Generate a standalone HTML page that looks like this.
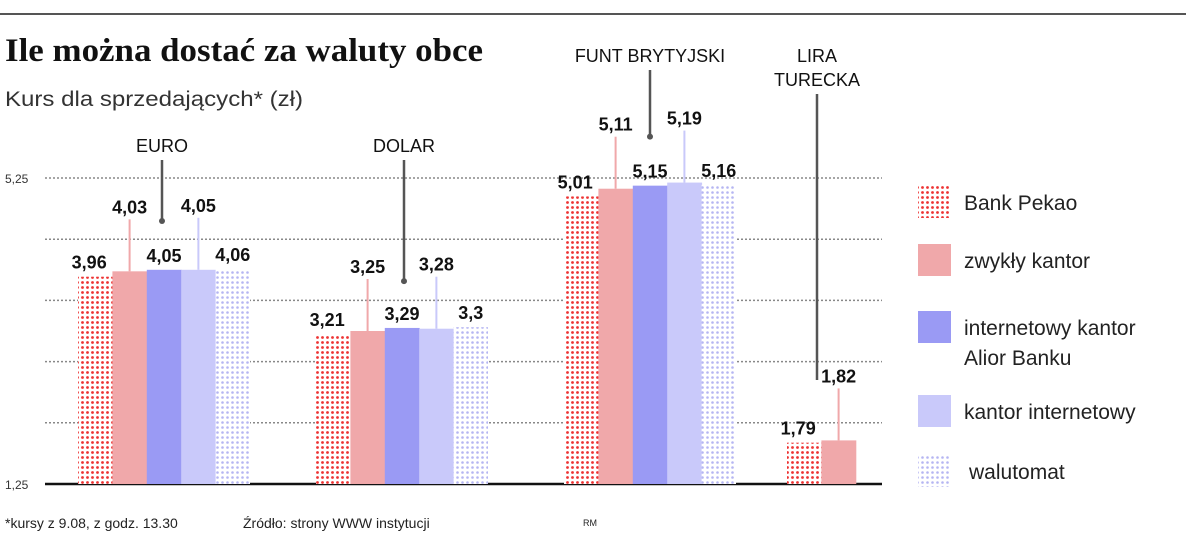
<!DOCTYPE html>
<html><head><meta charset="utf-8"><style>
body{margin:0;background:#fff;width:1200px;height:557px;overflow:hidden;font-family:"Liberation Sans",sans-serif}
svg{display:block}
</style></head><body>
<svg id="chart" width="1200" height="557" xmlns="http://www.w3.org/2000/svg">
<defs>
<pattern id="pRed" width="5" height="5" patternUnits="userSpaceOnUse"><rect width="5" height="5" fill="#fff"/><circle cx="2.5" cy="2.5" r="1.4" fill="#e33"/></pattern>
<pattern id="pLav" width="5" height="5" patternUnits="userSpaceOnUse"><rect width="5" height="5" fill="#fff"/><circle cx="2.5" cy="2.5" r="1.3" fill="#b5b5f2"/></pattern>
</defs>
<line x1="0" y1="14" x2="1186" y2="14" stroke="#555" stroke-width="2"/>
<text x="5" y="61" font-family="Liberation Serif, serif" font-weight="bold" font-size="33" textLength="478" lengthAdjust="spacingAndGlyphs" fill="#111">Ile można dostać za waluty obce</text>
<text x="5" y="106" font-size="21" textLength="298" lengthAdjust="spacingAndGlyphs" fill="#333">Kurs dla sprzedających* (zł)</text>
<text x="5" y="528" font-size="14" fill="#222">*kursy z 9.08, z godz. 13.30</text>
<text x="243" y="528" font-size="14" fill="#222">Źródło: strony WWW instytucji</text>
<text x="583" y="526" font-size="9" fill="#222">RM</text>
<g id="grid"></g>
<g id="bars"></g>
<g id="legend"></g>
</svg>
<script>
const categories = ["EURO","DOLAR","FUNT BRYTYJSKI","LIRA TURECKA"];
const bankPekao = [3.96,3.21,5.01,1.79];
const zwyklyKantor = [4.03,3.25,5.11,1.82];
const aliorKantor = [4.05,3.29,5.15,null];
const kantorInternetowy = [4.05,3.28,5.19,null];
const walutomat = [4.06,3.3,5.16,null];
const yTicks = [1.25,5.25];
const gridValues = [1.25,2.05,2.85,3.65,4.45,5.25];
const seriesNames = ["Bank Pekao","zwykły kantor","internetowy kantor|Alior Banku","kantor internetowy","walutomat"];

const NS="http://www.w3.org/2000/svg";
const y0=484, pxPerUnit=76.5;
const yScale=v=>y0-(v-1.25)*pxPerUnit;
const groupX=[78,316,564,787], barW=34.4;
const fills=["url(#pRed)","#f0a8aa","#9a9af4","#c9c9fa","url(#pLav)"];
const lineCols=["","#f0a8aa","","#c9c9fa",""];
const series=[bankPekao,zwyklyKantor,aliorKantor,kantorInternetowy,walutomat];
function mk(tag,attrs,parent){const e=document.createElementNS(NS,tag);for(const k in attrs)e.setAttribute(k,attrs[k]);parent.appendChild(e);return e;}
const grid=document.getElementById('grid'),bars=document.getElementById('bars'),legend=document.getElementById('legend');
gridValues.forEach((g,i)=>{
  const y=yScale(g);
  const l=mk('line',{x1:45,x2:882,y1:y,y2:y,stroke:i===0?'#111':'#888','stroke-width':i===0?2.5:1.5,'stroke-dasharray':i===0?'':'2 2'},i===0?bars:grid);
  
  
});
yTicks.forEach(t=>{
  const tx=mk('text',{x:5,y:yScale(t)+5,'font-size':12,fill:'#333'},grid);
  tx.textContent=String(t).replace('.',',');
  
  
});
const fmt=v=>String(v).replace('.',',');
categories.forEach((c,ci)=>{
  let maxTop=1e9;
  series.forEach((s,si)=>{
    const v=s[ci]; if(v==null) return;
    const x=groupX[ci]+si*barW, top=yScale(v);
    maxTop=Math.min(maxTop,top);
    const r=mk('rect',{x:x,y:top,width:barW+(si<4?0.5:0),height:y0-top,fill:fills[si]},bars);
    
    
    let ly;
    if(si===1||si===3){
      ly=top-58;
      const ln=mk('line',{x1:x+barW/2,x2:x+barW/2,y1:ly+6,y2:top,stroke:lineCols[si],'stroke-width':2},bars);
      
      
    } else ly=top-8;
    const t=mk('text',{x:x+barW/2+(si===0?-6:0),y:ly,'text-anchor':'middle','font-size':18,'font-weight':'bold',fill:'#111'},bars);
    t.textContent=fmt(v);
    
    
  });
  const cx=[162,404,650,817][ci];
  const lines=ci===3?["LIRA","TURECKA"]:[c];
  const labY=ci===3?62:(ci===2?62:152);
  lines.forEach((ln,k)=>{
    const t=mk('text',{x:cx,y:labY+k*24,'text-anchor':'middle','font-size':18,fill:'#111'},bars);
    t.textContent=ln;
    
    
  });
  const startY=labY+(lines.length-1)*24+8;
  const endY=maxTop-58+(ci===1?-3:0);
  const pl=mk('line',{x1:cx,x2:cx,y1:startY,y2:ci===3?380:endY+(ci===0?10:(ci===2?12:15)),stroke:'#555','stroke-width':2.5},bars);
  
  
  if(ci<3){const d=mk('circle',{cx:cx,cy:+pl.getAttribute('y2'),r:3,fill:'#555'},bars);
    
    }
});
const legY=[186,244,311,395,455];
seriesNames.forEach((n,i)=>{
  const r=mk('rect',{x:918,y:legY[i],width:33,height:32,fill:fills[i]},legend);
  
  
  n.split('|').forEach((p,k)=>{
    const t=mk('text',{x:i===4?969:964,y:legY[i]+24+k*30,'font-size':21,fill:'#222'},legend);
    t.textContent=p;
    
    
  });
});
</script>
</body></html>
